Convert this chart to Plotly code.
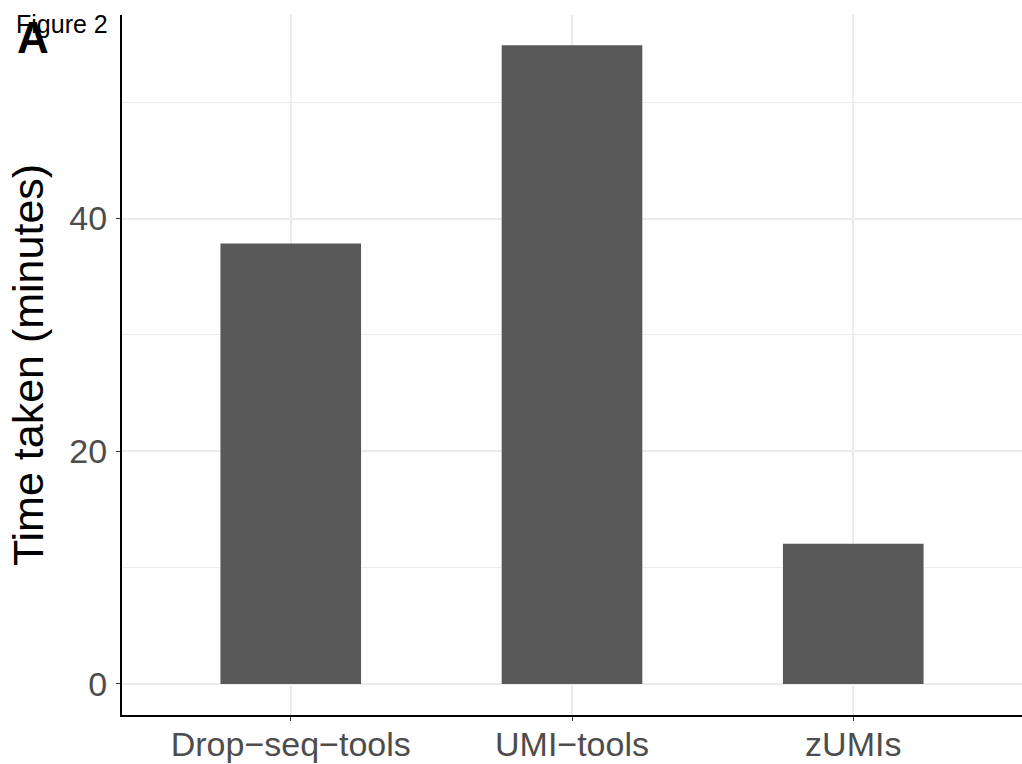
import plotly.graph_objects as go

categories = ["Drop\u2212seq\u2212tools", "UMI\u2212tools", "zUMIs"]
time_taken = [37.85, 54.9, 12.05]
y_ticks = [0, 20, 40]
y_minor_ticks = [10, 30, 50]

W, H = 1022, 764
l, r, t, b = 122, 0, 15, 49
pw, ph = W - l - r, H - t - b

font_family = "Liberation Sans, Arial, sans-serif"

fig = go.Figure()
fig.add_trace(go.Bar(
    x=categories, y=time_taken, width=0.5,
    marker=dict(color="#595959", line=dict(width=0)),
))

fig.update_layout(
    width=W, height=H,
    margin=dict(l=l, r=r, t=t, b=b, autoexpand=False),
    paper_bgcolor="white", plot_bgcolor="white",
    showlegend=False,
    font=dict(family=font_family),
    xaxis=dict(
        range=[-0.6, 2.6], automargin=False,
        showline=True, linecolor="black", linewidth=2,
        showgrid=True, gridcolor="#EBEBEB", gridwidth=1.5,
        ticks="outside", ticklen=4, tickcolor="#333333", tickwidth=1,
        ticklabelstandoff=-6,
        tickfont=dict(size=34, color="#4D4D4D", family=font_family),
        zeroline=False,
    ),
    yaxis=dict(
        range=[-2.67, 57.5], automargin=False,
        tickvals=y_ticks,
        showline=True, linecolor="black", linewidth=2,
        showgrid=True, gridcolor="#EBEBEB", gridwidth=1.5,
        minor=dict(tickvals=y_minor_ticks, showgrid=True, gridcolor="#EBEBEB", gridwidth=1),
        ticks="outside", ticklen=4, tickcolor="#333333", tickwidth=1,
        ticklabelstandoff=2,
        tickfont=dict(size=34, color="#4D4D4D", family=font_family),
        title=dict(text="Time taken (minutes)", font=dict(size=43, color="black", family=font_family), standoff=12),
        zeroline=False,
    ),
)

fig.add_annotation(text="Figure 2", x=(14 - l) / pw, y=(H - 24 - b) / ph,
                   xref="paper", yref="paper", showarrow=False,
                   font=dict(size=25, color="black", family=font_family),
                   xanchor="left", yanchor="middle")
fig.add_annotation(text="<b>A</b>", x=(15 - l) / pw, y=(H - 38 - b) / ph,
                   xref="paper", yref="paper", showarrow=False,
                   font=dict(size=44, color="black", family=font_family),
                   xanchor="left", yanchor="middle")

fig.write_html(
    "out.html",
    config={"displayModeBar": False},
    post_script="document.body.style.margin='0';document.body.style.overflow='hidden';",
)
